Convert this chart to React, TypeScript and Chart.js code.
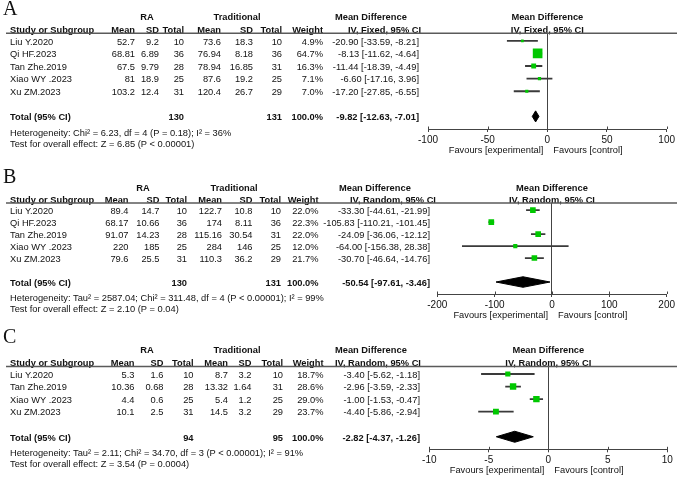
import React, { useEffect, useRef } from "react";
import { Chart, registerables } from "chart.js";

Chart.register(...registerables);

// ---------- Panel A: fixed-effect model ----------
const studiesA = ["Liu Y.2020", "Qi HF.2023", "Tan Zhe.2019", "Xiao WY .2023", "Xu ZM.2023"];
const raMeanA = [52.7, 68.81, 67.5, 81, 103.2];
const raSdA = [9.2, 6.89, 9.79, 18.9, 12.4];
const raNA = [10, 36, 28, 25, 31];
const trMeanA = [73.6, 76.94, 78.94, 87.6, 120.4];
const trSdA = [18.3, 8.18, 16.85, 19.2, 26.7];
const trNA = [10, 36, 31, 25, 29];
const weightA = [4.9, 64.7, 16.3, 7.1, 7.0];
const mdA = [-20.9, -8.13, -11.44, -6.6, -17.2];
const loA = [-33.59, -11.62, -18.39, -17.16, -27.85];
const hiA = [-8.21, -4.64, -4.49, 3.96, -6.55];
const totalNA = [130, 131];
const pooledA = [-9.82, -12.63, -7.01];
const ticksA = [-100, -50, 0, 50, 100];
const hetA = "Heterogeneity: Chi\u00B2 = 6.23, df = 4 (P = 0.18); I\u00B2 = 36%";
const testA = "Test for overall effect: Z = 6.85 (P < 0.00001)";

// ---------- Panel B: random-effects model ----------
const studiesB = ["Liu Y.2020", "Qi HF.2023", "Tan Zhe.2019", "Xiao WY .2023", "Xu ZM.2023"];
const raMeanB = [89.4, 68.17, 91.07, 220, 79.6];
const raSdB = [14.7, 10.66, 14.23, 185, 25.5];
const raNB = [10, 36, 28, 25, 31];
const trMeanB = [122.7, 174, 115.16, 284, 110.3];
const trSdB = [10.8, 8.11, 30.54, 146, 36.2];
const trNB = [10, 36, 31, 25, 29];
const weightB = [22.0, 22.3, 22.0, 12.0, 21.7];
const mdB = [-33.3, -105.83, -24.09, -64.0, -30.7];
const loB = [-44.61, -110.21, -36.06, -156.38, -46.64];
const hiB = [-21.99, -101.45, -12.12, 28.38, -14.76];
const totalNB = [130, 131];
const pooledB = [-50.54, -97.61, -3.46];
const ticksB = [-200, -100, 0, 100, 200];
const hetB = "Heterogeneity: Tau\u00B2 = 2587.04; Chi\u00B2 = 311.48, df = 4 (P < 0.00001); I\u00B2 = 99%";
const testB = "Test for overall effect: Z = 2.10 (P = 0.04)";

// ---------- Panel C: random-effects model ----------
const studiesC = ["Liu Y.2020", "Tan Zhe.2019", "Xiao WY .2023", "Xu ZM.2023"];
const raMeanC = [5.3, 10.36, 4.4, 10.1];
const raSdC = [1.6, 0.68, 0.6, 2.5];
const raNC = [10, 28, 25, 31];
const trMeanC = [8.7, 13.32, 5.4, 14.5];
const trSdC = [3.2, 1.64, 1.2, 3.2];
const trNC = [10, 31, 25, 29];
const weightC = [18.7, 28.6, 29.0, 23.7];
const mdC = [-3.4, -2.96, -1.0, -4.4];
const loC = [-5.62, -3.59, -1.53, -5.86];
const hiC = [-1.18, -2.33, -0.47, -2.94];
const totalNC = [94, 95];
const pooledC = [-2.82, -4.37, -1.26];
const ticksC = [-10, -5, 0, 5, 10];
const hetC = "Heterogeneity: Tau\u00B2 = 2.11; Chi\u00B2 = 34.70, df = 3 (P < 0.00001); I\u00B2 = 91%";
const testC = "Test for overall effect: Z = 3.54 (P = 0.0004)";

// ---------- styling ----------
const FONT = '"Liberation Sans", Arial, sans-serif';
const SERIF = '"Liberation Serif", "Times New Roman", serif';
const TEXT = "#111";
const LINE = "#444";
const RULE = "#5a5a5a";
const GREEN = "#00c800";
const CI_COLOR = "#3a3a3a";
const AXIS_H = 22;
const SQUARE_K = 1.2;
const DIAMOND_HALF = 0.44;
const TEXT_DY = 1.2;

type Spec = {
  letter: string;
  method: string;
  studies: string[];
  raMean: number[];
  raSd: number[];
  raN: number[];
  trMean: number[];
  trSd: number[];
  trN: number[];
  weight: number[];
  md: number[];
  lo: number[];
  hi: number[];
  totalN: number[];
  pooled: number[];
  ticks: number[];
  het: string;
  test: string;
  // layout
  top: number;
  height: number;
  pad: { left: number; top: number; right: number; bottom: number };
  cols: number[];
  raCenter: number;
  trCenter: number;
  mdHdrX: number[];
  letterRow: number;
};

const panels: Spec[] = [
  {
    letter: "A", method: "IV, Fixed, 95% CI",
    studies: studiesA, raMean: raMeanA, raSd: raSdA, raN: raNA, trMean: trMeanA, trSd: trSdA, trN: trNA,
    weight: weightA, md: mdA, lo: loA, hi: hiA, totalN: totalNA, pooled: pooledA, ticks: ticksA, het: hetA, test: testA,
    top: 0, height: 160,
    pad: { left: 428, top: 33.3, right: 10, bottom: 160 - 129 - AXIS_H },
    cols: [135, 159, 184, 221, 253, 282, 323, 419],
    raCenter: 147, trCenter: 237, mdHdrX: [335, 348], letterRow: -2.53,
  },
  {
    letter: "B", method: "IV, Random, 95% CI",
    studies: studiesB, raMean: raMeanB, raSd: raSdB, raN: raNB, trMean: trMeanB, trSd: trSdB, trN: trNB,
    weight: weightB, md: mdB, lo: loB, hi: hiB, totalN: totalNB, pooled: pooledB, ticks: ticksB, het: hetB, test: testB,
    top: 160, height: 160,
    pad: { left: 437.3, top: 43, right: 10, bottom: 160 - 134 - AXIS_H },
    cols: [128.5, 159.5, 187, 222, 252.5, 281, 318.5, 430],
    raCenter: 143, trCenter: 234, mdHdrX: [339, 350], letterRow: -2.78,
  },
  {
    letter: "C", method: "IV, Random, 95% CI",
    studies: studiesC, raMean: raMeanC, raSd: raSdC, raN: raNC, trMean: trMeanC, trSd: trSdC, trN: trNC,
    weight: weightC, md: mdC, lo: loC, hi: hiC, totalN: totalNC, pooled: pooledC, ticks: ticksC, het: hetC, test: testC,
    top: 320, height: 157,
    pad: { left: 429.3, top: 46.5, right: 9.7, bottom: 157 - 129.3 - AXIS_H },
    cols: [134.5, 163.5, 193.5, 228, 251.5, 283, 323.5, 420],
    raCenter: 147, trCenter: 237, mdHdrX: [335, 335], letterRow: -2.95,
  },
];

const ciText = (m: number, l: number, h: number) => `${m.toFixed(2)} [${l.toFixed(2)}, ${h.toFixed(2)}]`;

// Draws the study table, headers, rule and footnotes beside the plot area.
function tablePlugin(p: Spec) {
  return {
    id: "forestTable" + p.letter,
    afterDraw(chart: any) {
      const { ctx, chartArea } = chart;
      const ys = chart.scales.y;
      const xs = chart.scales.x;
      const Y = (r: number) => ys.getPixelForValue(r) + TEXT_DY;
      const x0 = xs.getPixelForValue(0);
      const n = p.studies.length;
      const c = p.cols;
      ctx.save();

      // tick marks also reach a little above the axis line
      ctx.strokeStyle = LINE;
      ctx.lineWidth = 1;
      ctx.beginPath();
      p.ticks.forEach((t) => {
        const px = Math.round(xs.getPixelForValue(t)) + 0.5;
        ctx.moveTo(px, chartArea.bottom - 2.5);
        ctx.lineTo(px, chartArea.bottom);
      });
      ctx.stroke();

      ctx.fillStyle = TEXT;
      ctx.textBaseline = "middle";
      const put = (s: string, x: number, y: number, align: string, bold = false) => {
        ctx.font = bold ? `bold 9.3px ${FONT}` : `9.3px ${FONT}`;
        ctx.textAlign = align;
        ctx.fillText(s, x, y);
      };

      ctx.font = `20px ${SERIF}`;
      ctx.textAlign = "left";
      ctx.fillText(p.letter, 3, Y(p.letterRow));

      const r1 = -1.95;
      const r2 = -0.95;
      put("RA", p.raCenter, Y(r1), "center", true);
      put("Traditional", p.trCenter, Y(r1), "center", true);
      put("Mean Difference", p.mdHdrX[0], Y(r1), "left", true);
      put("Mean Difference", x0, Y(r1), "center", true);
      put("Study or Subgroup", 10, Y(r2), "left", true);
      ["Mean", "SD", "Total", "Mean", "SD", "Total", "Weight"].forEach((h, k) => put(h, c[k], Y(r2), "right", true));
      put(p.method, p.mdHdrX[1], Y(r2), "left", true);
      put(p.method, x0, Y(r2), "center", true);

      ctx.strokeStyle = RULE;
      ctx.lineWidth = 1.4;
      ctx.beginPath();
      ctx.moveTo(6, chartArea.top);
      ctx.lineTo(chart.width, chartArea.top);
      ctx.stroke();

      p.studies.forEach((s, i) => {
        const y = Y(i);
        put(s, 10, y, "left");
        put(String(p.raMean[i]), c[0], y, "right");
        put(String(p.raSd[i]), c[1], y, "right");
        put(String(p.raN[i]), c[2], y, "right");
        put(String(p.trMean[i]), c[3], y, "right");
        put(String(p.trSd[i]), c[4], y, "right");
        put(String(p.trN[i]), c[5], y, "right");
        put(p.weight[i].toFixed(1) + "%", c[6], y, "right");
        put(ciText(p.md[i], p.lo[i], p.hi[i]), c[7], y, "right");
      });

      const yt = Y(n + 1);
      put("Total (95% CI)", 10, yt, "left", true);
      put(String(p.totalN[0]), c[2], yt, "right", true);
      put(String(p.totalN[1]), c[5], yt, "right", true);
      put("100.0%", c[6], yt, "right", true);
      put(ciText(p.pooled[0], p.pooled[1], p.pooled[2]), c[7], yt, "right", true);

      put(p.het, 10, Y(n + 2.25), "left");
      put(p.test, 10, Y(n + 3.15), "left");

      const yf = chartArea.bottom + 21.5;
      put("Favours [experimental]", x0 - 4, yf, "right");
      put("Favours [control]", x0 + 6, yf, "left");
      ctx.restore();
    },
  };
}

function buildConfig(p: Spec): any {
  const n = p.studies.length;
  const tr = n + 1;
  const [est, plo, phi] = p.pooled;
  const diamond = [
    { x: plo, y: tr },
    { x: est, y: tr - DIAMOND_HALF },
    { x: phi, y: tr },
    { x: est, y: tr + DIAMOND_HALF },
    { x: plo, y: tr },
  ];
  return {
    type: "scatter",
    data: {
      datasets: [
        {
          type: "scatter",
          data: p.md.map((v, i) => ({ x: v, y: i })),
          pointStyle: "rect",
          pointRadius: p.weight.map((w) => (SQUARE_K * Math.sqrt(w)) / Math.SQRT2),
          backgroundColor: GREEN,
          borderWidth: 0,
          order: 0,
        },
        {
          type: "line",
          data: diamond,
          fill: "shape",
          backgroundColor: "#000",
          borderColor: "#000",
          borderWidth: 1,
          pointRadius: 0,
          tension: 0,
          order: 1,
        },
        {
          type: "bar",
          indexAxis: "y",
          data: p.lo.map((l, i) => ({ x: [l, p.hi[i]], y: i })),
          backgroundColor: CI_COLOR,
          borderWidth: 0,
          barThickness: 1.2,
          order: 2,
        },
      ],
    },
    options: {
      responsive: false,
      animation: false,
      events: [],
      layout: { padding: p.pad },
      plugins: { legend: { display: false }, tooltip: { enabled: false } },
      scales: {
        x: {
          type: "linear",
          offset: false,
          min: p.ticks[0],
          max: p.ticks[p.ticks.length - 1],
          afterBuildTicks: (s: any) => {
            s.ticks = p.ticks.map((v) => ({ value: v }));
          },
          afterFit: (s: any) => {
            s.height = AXIS_H;
          },
          grid: {
            offset: false,
            color: (g: any) => (g.tick && g.tick.value === 0 ? LINE : "rgba(0,0,0,0)"),
            tickColor: LINE,
            tickLength: 3,
            lineWidth: 1,
          },
          border: { display: true, color: LINE, width: 1 },
          ticks: {
            color: TEXT,
            font: { family: FONT, size: 10 },
            padding: 2,
            maxRotation: 0,
            autoSkip: false,
          },
        },
        y: {
          type: "linear",
          offset: false,
          reverse: true,
          min: -0.6,
          max: n + 2,
          display: false,
          grid: { offset: false },
        },
      },
    },
    plugins: [tablePlugin(p)],
  };
}

function ForestPanel({ spec }: { spec: Spec }) {
  const ref = useRef<HTMLCanvasElement>(null);
  useEffect(() => {
    const chart = new Chart(ref.current as HTMLCanvasElement, buildConfig(spec));
    return () => chart.destroy();
  }, [spec]);
  return (
    <canvas
      ref={ref}
      width={677}
      height={spec.height}
      style={{ position: "absolute", left: 0, top: spec.top, width: 677, height: spec.height }}
    />
  );
}

export default function App() {
  useEffect(() => {
    document.body.style.margin = "0";
    document.body.style.background = "#fff";
  }, []);
  return (
    <div style={{ position: "relative", width: 677, height: 477, background: "#fff" }}>
      {panels.map((p) => (
        <ForestPanel key={p.letter} spec={p} />
      ))}
    </div>
  );
}
